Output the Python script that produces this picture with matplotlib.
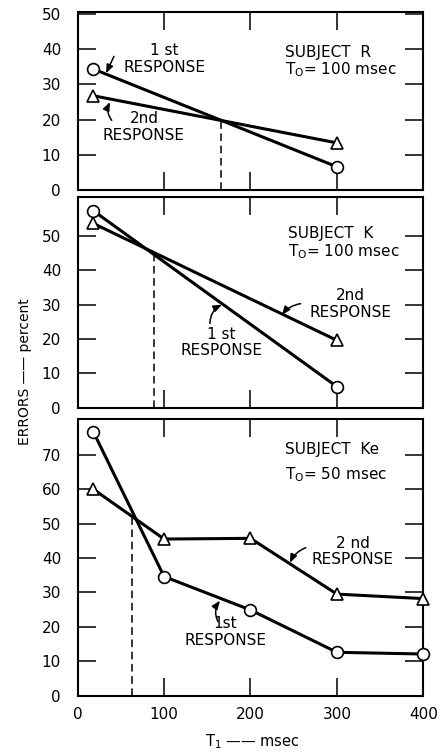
import matplotlib.pyplot as plt

# T1 values (msec)
t1_short = [18, 300]
t1_long = [18, 100, 200, 300, 400]

# Subject R, To = 100 msec
r_first = [34.4, 6.6]
r_second = [26.8, 13.4]
r_cross = (166, 19.5)

# Subject K, To = 100 msec
k_first = [57.4, 6.1]
k_second = [53.7, 19.6]
k_cross = (88, 45)

# Subject Ke, To = 50 msec
ke_first = [76.7, 34.6, 24.9, 12.6, 12.1]
ke_second = [60.0, 45.5, 45.7, 29.5, 28.2]
ke_cross = (63, 52)

plt.rcParams['font.family'] = ['DejaVu Sans']
FS = 11


def setup_axis(ax, ymax, yticks):
    ax.set_xlim(0, 400)
    ax.set_ylim(0, ymax)
    ax.set_xticks([100, 200, 300])
    ax.set_yticks(yticks)
    ax.tick_params(direction='in', length=13, width=1.1, top=True, right=True,
                   labelsize=FS, pad=12)
    ax.tick_params(axis='x', labelbottom=False)
    for s in ax.spines.values():
        s.set_linewidth(1.5)


def draw_series(ax, x, first, second, cross):
    ax.plot([cross[0], cross[0]], [0, cross[1]], color='black', lw=1.1,
            ls=(0, (5, 3)))
    ax.plot(x, second, color='black', lw=2.2, marker='^', ms=9,
            mfc='white', mec='black', mew=1.2, clip_on=False, zorder=3)
    ax.plot(x, first, color='black', lw=2.2, marker='o', ms=8.5,
            mfc='white', mec='black', mew=1.2, clip_on=False, zorder=3)


def label(ax, text, xy, tail, rad=0.0):
    ax.text(*xy, text, ha='center', va='center', fontsize=FS, linespacing=1.15)
    ax.annotate('', xy=tail[1], xytext=tail[0],
                arrowprops=dict(arrowstyle='-|>,head_length=0.5,head_width=0.2',
                                color='black', lw=1.1, shrinkA=0, shrinkB=0,
                                connectionstyle=f'arc3,rad={rad}'))


fig = plt.figure(figsize=(4.46, 7.52), dpi=100)
left, width = 0.1742, 0.7749
ax1 = fig.add_axes([left, 0.7473, width, 0.2363])
ax2 = fig.add_axes([left, 0.4580, width, 0.2805])
ax3 = fig.add_axes([left, 0.0749, width, 0.3676])

# panel 1
setup_axis(ax1, 50.5, [0, 10, 20, 30, 40, 50])
draw_series(ax1, t1_short, r_first, r_second, r_cross)
label(ax1, '1 st\nRESPONSE', (100, 37.2), ((42, 38.0), (32.8, 33.2)))
label(ax1, '2nd\nRESPONSE', (76.7, 18.0), ((39.4, 19.8), (37.4, 25.0)), rad=-0.3)
ax1.text(240, 39.2, 'SUBJECT  R', fontsize=FS, va='center')
ax1.text(240, 34.1, r'T$_\mathregular{O}$= 100 msec', fontsize=FS, va='center')

# panel 2
setup_axis(ax2, 61.5, [0, 10, 20, 30, 40, 50])
draw_series(ax2, t1_short, k_first, k_second, k_cross)
label(ax2, '2nd\nRESPONSE', (316, 30.1), ((258, 30.3), (236.5, 27.0)), rad=0.2)
label(ax2, '1 st\nRESPONSE', (166, 19.0), ((153, 24.5), (167, 30.0)), rad=-0.3)
ax2.text(243, 50.9, 'SUBJECT  K', fontsize=FS, va='center')
ax2.text(243, 45.4, r'T$_\mathregular{O}$= 100 msec', fontsize=FS, va='center')

# panel 3
setup_axis(ax3, 80.3, [0, 10, 20, 30, 40, 50, 60, 70])
ax3.set_xticks([0, 100, 200, 300, 400])
ax3.tick_params(axis='x', labelbottom=True, pad=8)
draw_series(ax3, t1_long, ke_first, ke_second, ke_cross)
label(ax3, '2 nd\nRESPONSE', (318.6, 41.9), ((264, 43.0), (245.7, 38.6)), rad=0.2)
label(ax3, '1st\nRESPONSE', (170.5, 18.5), ((162.4, 21.5), (164.7, 27.6)), rad=-0.3)
ax3.text(240, 71.4, 'SUBJECT  Ke', fontsize=FS, va='center')
ax3.text(240, 64.2, r'T$_\mathregular{O}$= 50 msec', fontsize=FS, va='center')

fig.text(25 / 446, 1 - 372 / 752, 'ERRORS —— percent', rotation=90,
         ha='center', va='center', fontsize=10)
fig.text(252 / 446, 1 - 742 / 752, r'T$_\mathregular{1}$ —— msec',
         ha='center', va='center', fontsize=10.5)

fig.savefig('out.png', dpi=100)
